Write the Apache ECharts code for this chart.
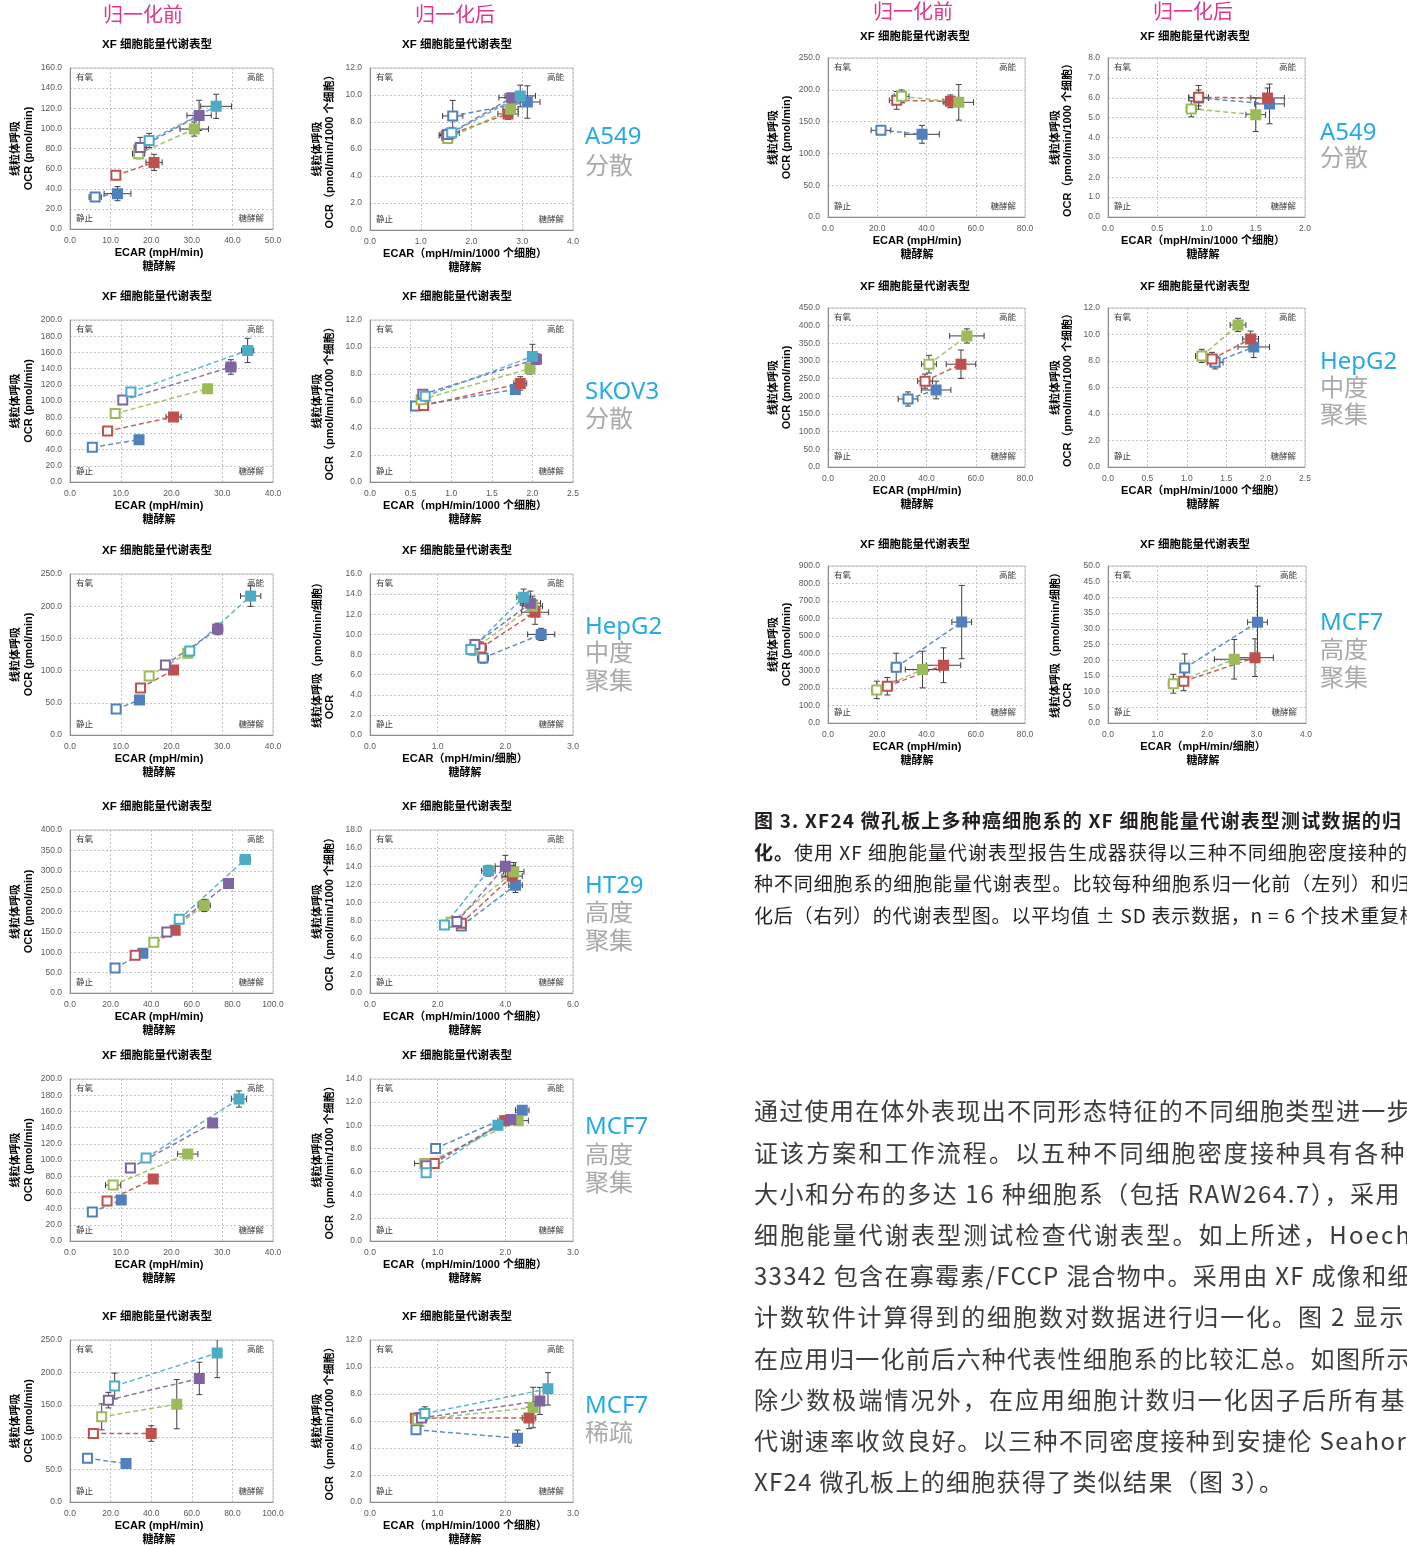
<!DOCTYPE html>
<html><head><meta charset="utf-8"><title>XF 细胞能量代谢表型</title>
<script src="https://cdn.jsdelivr.net/npm/echarts@6.0.0/dist/echarts.min.js"></script>
<style>
html,body{margin:0;padding:0;background:#fff;overflow:hidden;}
#wrap{position:relative;width:1407px;height:1545px;overflow:hidden;}
#chart{position:absolute;left:0;top:0;width:1407px;height:1545px;}
.t{position:absolute;white-space:nowrap;font-family:"Noto Sans","Noto Sans CJK SC",sans-serif;}
.hd{color:#E0358F;font-size:20px;line-height:24px;transform:translateX(-50%);}
.cl{font-size:24px;line-height:28px;color:#27AAE1;}
.cd{color:#A9A9A9;}
.cap{left:754px;font-size:19px;line-height:31.7px;color:#231F20;font-family:"Noto Sans CJK SC",sans-serif;}
.bd{left:754px;font-size:24px;line-height:41.2px;color:#3c3c3c;font-family:"Noto Sans CJK SC",sans-serif;}
</style></head>
<body><div id="wrap"><div id="chart"></div>
<div class="t hd" style="left:143px;top:3px">归一化前</div>
<div class="t hd" style="left:455px;top:3px">归一化后</div>
<div class="t hd" style="left:913px;top:0px">归一化前</div>
<div class="t hd" style="left:1193px;top:0px">归一化后</div>

<div class="t cl" style="left:585px;top:121px">A549</div>
<div class="t cl cd" style="left:585px;top:151px">分散</div>
<div class="t cl" style="left:585px;top:376px">SKOV3</div>
<div class="t cl cd" style="left:585px;top:404px">分散</div>
<div class="t cl" style="left:585px;top:611px">HepG2</div>
<div class="t cl cd" style="left:585px;top:638px">中度</div>
<div class="t cl cd" style="left:585px;top:666px">聚集</div>
<div class="t cl" style="left:585px;top:870px">HT29</div>
<div class="t cl cd" style="left:585px;top:898px">高度</div>
<div class="t cl cd" style="left:585px;top:926px">聚集</div>
<div class="t cl" style="left:585px;top:1111px">MCF7</div>
<div class="t cl cd" style="left:585px;top:1140px">高度</div>
<div class="t cl cd" style="left:585px;top:1168px">聚集</div>
<div class="t cl" style="left:585px;top:1390px">MCF7</div>
<div class="t cl cd" style="left:585px;top:1418px">稀疏</div>

<div class="t cl" style="left:1320px;top:117px">A549</div>
<div class="t cl cd" style="left:1320px;top:143px">分散</div>
<div class="t cl" style="left:1320px;top:346px">HepG2</div>
<div class="t cl cd" style="left:1320px;top:373px">中度</div>
<div class="t cl cd" style="left:1320px;top:400px">聚集</div>
<div class="t cl" style="left:1320px;top:607px">MCF7</div>
<div class="t cl cd" style="left:1320px;top:635px">高度</div>
<div class="t cl cd" style="left:1320px;top:663px">聚集</div>

<div class="t cap" style="top:804px;letter-spacing:1.2px"><b>图 3. XF24 微孔板上多种癌细胞系的 XF 细胞能量代谢表型测试数据的归</b></div>
<div class="t cap" style="top:835.7px;letter-spacing:1.0px"><b>化。</b>使用 XF 细胞能量代谢表型报告生成器获得以三种不同细胞密度接种的</div>
<div class="t cap" style="top:867.4px;letter-spacing:0.9px">种不同细胞系的细胞能量代谢表型。比较每种细胞系归一化前（左列）和归</div>
<div class="t cap" style="top:899.1px;letter-spacing:0.8px">化后（右列）的代谢表型图。以平均值 ± SD 表示数据，n = 6 个技术重复样</div>

<div class="t bd" style="top:1089.4px;letter-spacing:1.3px">通过使用在体外表现出不同形态特征的不同细胞类型进一步</div>
<div class="t bd" style="top:1130.6px;letter-spacing:2.1px">证该方案和工作流程。以五种不同细胞密度接种具有各种</div>
<div class="t bd" style="top:1171.8px;letter-spacing:1.55px">大小和分布的多达 16 种细胞系（包括 RAW264.7），采用</div>
<div class="t bd" style="top:1213.0px;letter-spacing:2.15px">细胞能量代谢表型测试检查代谢表型。如上所述，Hoech</div>
<div class="t bd" style="top:1254.2px;letter-spacing:1.3px">33342 包含在寡霉素/FCCP 混合物中。采用由 XF 成像和细</div>
<div class="t bd" style="top:1295.4px;letter-spacing:1.9px">计数软件计算得到的细胞数对数据进行归一化。图 2 显示</div>
<div class="t bd" style="top:1336.6px;letter-spacing:1.3px">在应用归一化前后六种代表性细胞系的比较汇总。如图所示</div>
<div class="t bd" style="top:1377.8px;letter-spacing:2.1px">除少数极端情况外，在应用细胞计数归一化因子后所有基</div>
<div class="t bd" style="top:1419.0px;letter-spacing:1.4px">代谢速率收敛良好。以三种不同密度接种到安捷伦 Seahor</div>
<div class="t bd" style="top:1460.2px;letter-spacing:1.3px">XF24 微孔板上的细胞获得了类似结果（图 3）。</div>
</div>
<script>
// Series colours (cell densities)
const COLORS = ['#4F81BD', '#C0504D', '#9BBB59', '#8064A2', '#4BACC6'];

// Each row = one density: [ECAR open, OCR open, ±ECAR, ±OCR, ECAR filled, OCR filled, ±ECAR, ±OCR]
const a549Raw = [[6.2,31.8,1.5,1.5,11.7,35.1,3.3,7],[11.3,53.3,0.5,2,20.7,66.2,2,8],[16.9,74.8,1.5,5,30.6,99.3,3.5,7],[17.3,81.1,1.5,10,31.8,112.9,3,15],[19.5,88,1,7,36.0,121.9,3.8,12]];
const a549Norm = [[1.63,8.45,0.2,1.15,3.10,9.48,0.25,1.2],[1.51,7.0,0.15,0.3,2.72,8.6,0.2,0.4],[1.53,6.77,0.1,0.3,2.77,8.94,0.15,0.4],[1.53,7.07,0.15,0.4,2.79,9.8,0.25,0.3],[1.61,7.2,0.15,0.4,2.96,9.93,0.3,0.8]];
const skov3Raw = [[4.4,42.9,0.5,1.5,13.6,52.2,0.5,2],[7.4,62.9,1,3,20.4,80.4,1.5,5],[8.9,84.5,0.5,2,27.1,115.1,0.8,5],[10.4,101.2,0.8,3,31.7,142,1,9],[12.0,111,0.8,5,35.0,162.4,1.2,15]];
const skov3Norm = [[0.56,5.63,0.03,0.15,1.79,6.86,0.05,0.3],[0.66,5.66,0.04,0.3,1.85,7.3,0.08,0.5],[0.63,6.1,0.03,0.2,1.97,8.4,0.04,0.4],[0.65,6.5,0.04,0.2,2.05,9.1,0.05,0.4],[0.68,6.35,0.03,0.3,2.0,9.3,0.05,0.9]];
const hepg2Raw = [[9.1,40.4,0.4,2,13.7,54.3,0.5,2],[13.9,73,0.3,2,20.4,101,0.8,4],[15.6,91.6,0.5,2,23.2,127,0.8,5],[18.8,108.7,0.5,3,29.1,164.6,1,9],[23.6,130.4,0.5,4,35.6,215.8,2,16]];
const hepg2Norm = [[1.67,7.65,0.08,0.5,2.53,10.0,0.2,0.6],[1.64,8.65,0.08,0.6,2.44,12.2,0.2,1.2],[1.52,8.45,0.05,0.5,2.40,12.8,0.15,1],[1.55,9.0,0.05,0.5,2.37,13.1,0.15,1.2],[1.49,8.5,0.05,0.5,2.27,13.7,0.1,0.8]];
const ht29Raw = [[22.2,61.5,1,5,35.9,97.5,1.5,5],[32.1,92.6,1,5,51.8,154,1.5,6],[41.3,124.6,1,5,66.1,214.8,3,15],[47.7,150,1,5,78.1,268.9,2,12],[53.8,181,1,6,86.3,327.9,2.5,10]];
const ht29Norm = [[2.7,7.4,0.1,0.5,4.3,11.9,0.2,0.8],[2.7,7.7,0.1,0.5,4.2,12.9,0.3,1.2],[2.4,7.8,0.1,0.5,4.25,13.4,0.3,1.0],[2.57,7.9,0.1,0.5,4.0,14.0,0.3,1.2],[2.2,7.5,0.1,0.4,3.5,13.5,0.2,0.6]];
const mcf7DenseRaw = [[4.4,35.8,0.5,3,10.1,50.6,0.5,3],[7.3,49.4,0.5,3,16.4,76.5,0.8,4],[8.5,69,1.5,3,23.2,107.4,2,4],[11.9,90,0.5,3,28.1,145.7,0.8,5],[15,102.5,0.8,4,33.3,175.3,1.5,10]];
const mcf7DenseNorm = [[0.97,8.0,0.05,0.4,2.25,11.3,0.1,0.4],[0.95,6.7,0.06,0.3,1.99,10.4,0.1,0.4],[0.81,6.7,0.15,0.3,2.19,10.4,0.15,0.4],[0.83,6.5,0.05,0.3,2.08,10.5,0.08,0.3],[0.83,5.9,0.05,0.3,1.89,10.0,0.05,0.3]];
const mcf7SparseRaw = [[8.6,67.5,1.5,3,27.6,59.3,1.5,6],[11.5,105.7,1,3,40.0,105.7,1.5,12],[15.6,131.4,1,20,52.6,151,2,38],[18.9,157.2,1,12,63.7,190.7,1.5,25],[22,178.9,1,20,72.5,229.9,2,38]];
const mcf7SparseNorm = [[0.68,5.35,0.05,0.2,2.18,4.73,0.06,0.6],[0.67,6.21,0.04,0.3,2.35,6.23,0.1,0.8],[0.70,6.1,0.05,0.5,2.41,7.0,0.06,1.5],[0.76,6.23,0.05,0.6,2.51,7.49,0.05,1.0],[0.81,6.55,0.05,0.5,2.63,8.38,0.06,1.2]];
const xf24A549Raw = [[21.5,136.3,4,5,38.2,130,7,14],[27.9,183.4,3,14,49.7,181.9,3,10],[29.9,189.7,3,10,53.1,180.3,6,28]];
const xf24A549Norm = [[0.92,5.99,0.1,0.4,1.64,5.69,0.15,1.0],[0.92,6.02,0.1,0.6,1.62,5.99,0.17,0.5],[0.845,5.44,0.05,0.4,1.50,5.15,0.1,0.85]];
const xf24HepG2Raw = [[32.5,192.5,4,20,43.9,218,6,25],[39.4,243,3,20,54,291,6,40],[41,291,3,25,56.4,371,7,20]];
const xf24HepG2Norm = [[1.36,7.9,0.1,0.5,1.85,9.06,0.2,0.8],[1.32,8.15,0.08,0.5,1.81,9.66,0.1,0.6],[1.19,8.38,0.08,0.5,1.65,10.72,0.1,0.5]];
const xf24Mcf7Raw = [[27.7,320,2,80,54.3,578.5,4,210],[24.1,210.7,2,50,46.9,331,7,100],[19.8,189.7,2,50,38.4,306.5,7,105]];
const xf24Mcf7Norm = [[1.55,17.5,0.05,4.5,3.02,32.1,0.2,11.5],[1.53,13.3,0.1,3,2.97,20.8,0.37,6],[1.32,12.5,0.1,3,2.55,20.3,0.4,6.3]];

// Text
const TITLE = 'XF 细胞能量代谢表型';
const X_NAMES = {raw: 'ECAR (mpH/min)', norm: 'ECAR（mpH/min/1000 个细胞）', cell: 'ECAR（mpH/min/细胞）'};
const X_SUB = '糖酵解';
const Y_NAMES = {raw: ['线粒体呼吸', 'OCR (pmol/min)'], norm: ['线粒体呼吸', 'OCR（pmol/min/1000 个细胞）'], cell: ['线粒体呼吸（pmol/min/细胞）', 'OCR']};
const QUADS = ['有氧', '高能', '静止', '糖酵解'];

// Layout: [data, left, top, width, height, xMax, xStep, yMax, yStep, unit kind]
const panels = [
  [a549Raw, 70, 68, 203, 161, 50, 10, 160, 20, 'raw'],
  [a549Norm, 370, 68, 203, 162, 4, 1, 12, 2, 'norm'],
  [skov3Raw, 70, 320, 203, 162, 40, 10, 200, 20, 'raw'],
  [skov3Norm, 370, 320, 203, 162, 2.5, 0.5, 12, 2, 'norm'],
  [hepg2Raw, 70, 574, 203, 161, 40, 10, 250, 50, 'raw'],
  [hepg2Norm, 370, 574, 203, 161, 3, 1, 16, 2, 'cell'],
  [ht29Raw, 70, 830, 203, 163, 100, 20, 400, 50, 'raw'],
  [ht29Norm, 370, 830, 203, 163, 6, 2, 18, 2, 'norm'],
  [mcf7DenseRaw, 70, 1079, 203, 162, 40, 10, 200, 20, 'raw'],
  [mcf7DenseNorm, 370, 1079, 203, 162, 3, 1, 14, 2, 'norm'],
  [mcf7SparseRaw, 70, 1340, 203, 162, 100, 20, 250, 50, 'raw'],
  [mcf7SparseNorm, 370, 1340, 203, 162, 3, 1, 12, 2, 'norm'],
  [xf24A549Raw, 828, 58, 197, 159, 80, 20, 250, 50, 'raw'],
  [xf24A549Norm, 1108, 58, 197, 159, 2, 0.5, 8, 1, 'norm'],
  [xf24HepG2Raw, 828, 308, 197, 159, 80, 20, 450, 50, 'raw'],
  [xf24HepG2Norm, 1108, 308, 197, 159, 2.5, 0.5, 12, 2, 'norm'],
  [xf24Mcf7Raw, 828, 566, 197, 157, 80, 20, 900, 100, 'raw'],
  [xf24Mcf7Norm, 1108, 566, 198, 157, 4, 1, 50, 5, 'cell']
];

const FONT = '"Liberation Sans", Arial, "Noto Sans CJK SC", sans-serif';
const chart = echarts.init(document.getElementById('chart'), null, {renderer: 'canvas'});
const opt = {animation: false, grid: [], xAxis: [], yAxis: [], series: [], graphic: []};

function txt(x, y, s, o) {
  return Object.assign({type: 'text', x: x, y: y, silent: true, z: 10,
    style: Object.assign({text: s, fill: '#000', fontFamily: FONT, fontSize: 11, fontWeight: 'bold', align: 'center', verticalAlign: 'middle'}, o && o.style)},
    o && o.rot ? {rotation: o.rot} : {});
}

panels.forEach(function (p, i) {
  const d = p[0], L = p[1], T = p[2], W = p[3], H = p[4], kind = p[9];
  opt.grid.push({left: L, top: T, width: W, height: H, show: true, borderColor: '#BFBFBF', borderWidth: 1, backgroundColor: 'transparent', containLabel: false, outerBoundsMode: 'none'});
  const lab = {fontSize: 8.5, color: '#595959', fontFamily: FONT, formatter: function (v) { return v.toFixed(1); }, showMinLabel: true, showMaxLabel: true};
  const split = {show: true, lineStyle: {type: [2, 2], color: '#C4C4C4', width: 1}};
  opt.xAxis.push({type: 'value', gridIndex: i, min: 0, max: p[5], interval: p[6],
    axisLine: {show: true, onZero: false, lineStyle: {color: '#8C8C8C'}}, axisTick: {show: false},
    axisLabel: Object.assign({margin: 7}, lab), splitLine: split});
  opt.yAxis.push({type: 'value', gridIndex: i, min: 0, max: p[7], interval: p[8],
    axisLine: {show: true, onZero: false, lineStyle: {color: '#8C8C8C'}}, axisTick: {show: false},
    axisLabel: Object.assign({margin: 8}, lab), splitLine: split});

  d.forEach(function (r, k) {
    const c = COLORS[k];
    opt.series.push({type: 'custom', xAxisIndex: i, yAxisIndex: i, z: 2, silent: true, clip: true,
      encode: {x: 0, y: 1},
      data: [[r[0], r[1], r[2], r[3]], [r[4], r[5], r[6], r[7]]],
      renderItem: function (params, api) {
        const x = api.value(0), y = api.value(1), ex = api.value(2), ey = api.value(3);
        const a = api.coord([x - ex, y]), b = api.coord([x + ex, y]), lo = api.coord([x, y - ey]), hi = api.coord([x, y + ey]);
        const st = {stroke: '#3F3F3F', lineWidth: 1, fill: null}, cp = 3;
        return {type: 'group', children: [
          {type: 'line', shape: {x1: a[0], y1: a[1], x2: b[0], y2: b[1]}, style: st},
          {type: 'line', shape: {x1: a[0], y1: a[1] - cp, x2: a[0], y2: a[1] + cp}, style: st},
          {type: 'line', shape: {x1: b[0], y1: b[1] - cp, x2: b[0], y2: b[1] + cp}, style: st},
          {type: 'line', shape: {x1: lo[0], y1: lo[1], x2: hi[0], y2: hi[1]}, style: st},
          {type: 'line', shape: {x1: lo[0] - cp, y1: lo[1], x2: lo[0] + cp, y2: lo[1]}, style: st},
          {type: 'line', shape: {x1: hi[0] - cp, y1: hi[1], x2: hi[0] + cp, y2: hi[1]}, style: st}
        ]};
      }
    });
    opt.series.push({type: 'line', xAxisIndex: i, yAxisIndex: i, z: 3, silent: true,
      symbol: 'rect', symbolSize: 9, showAllSymbol: true,
      lineStyle: {color: c, width: 1.5, type: [5, 3], opacity: 0.9},
      itemStyle: {color: c, borderColor: c, borderWidth: 2},
      emphasis: {disabled: true},
      data: [
        {value: [r[0], r[1]], itemStyle: {color: '#FFFFFF', borderColor: c, borderWidth: 2}},
        {value: [r[4], r[5]], itemStyle: {color: c, borderColor: c, borderWidth: 2}}
      ]
    });
  });

  // titles and axis names (centred on the whole panel, not only on the plot)
  const cy = T + H / 2, B = T + H, R = L + W;
  const right = L > 800;
  const xc = kind === 'raw' ? L + 89 : L + 95;
  opt.graphic.push(txt(L + 87, T - (right ? 21 : 23), TITLE, {style: {fontSize: 11.5}}));
  opt.graphic.push(txt(xc, B + 24, X_NAMES[kind], {style: {fontSize: 11}}));
  opt.graphic.push(txt(xc, B + 38, X_SUB, {style: {fontSize: 11}}));
  const yn = Y_NAMES[kind];
  const off1 = kind === 'raw' ? -54 : -52, off2 = kind === 'raw' ? -41 : -40;
  if (kind === 'cell') {
    opt.graphic.push(txt(L + off1, cy - 2, yn[0], {rot: Math.PI / 2, style: {fontSize: 11}}));
    opt.graphic.push(txt(L + off2, B - 28, yn[1], {rot: Math.PI / 2, style: {fontSize: 11}}));
  } else {
    opt.graphic.push(txt(L + off1, cy, yn[0], {rot: Math.PI / 2, style: {fontSize: 11}}));
    opt.graphic.push(txt(L + off2, cy, yn[1], {rot: Math.PI / 2, style: {fontSize: 11}}));
  }
  const q = {fontSize: 8.5, fontWeight: 'normal', fill: '#404040'};
  opt.graphic.push(txt(L + 6, T + 10, QUADS[0], {style: Object.assign({align: 'left'}, q)}));
  opt.graphic.push(txt(R - 9, T + 10, QUADS[1], {style: Object.assign({align: 'right'}, q)}));
  opt.graphic.push(txt(L + 6, B - 10, QUADS[2], {style: Object.assign({align: 'left'}, q)}));
  opt.graphic.push(txt(R - 9, B - 10, QUADS[3], {style: Object.assign({align: 'right'}, q)}));
});

chart.setOption(opt);
</script></body></html>
